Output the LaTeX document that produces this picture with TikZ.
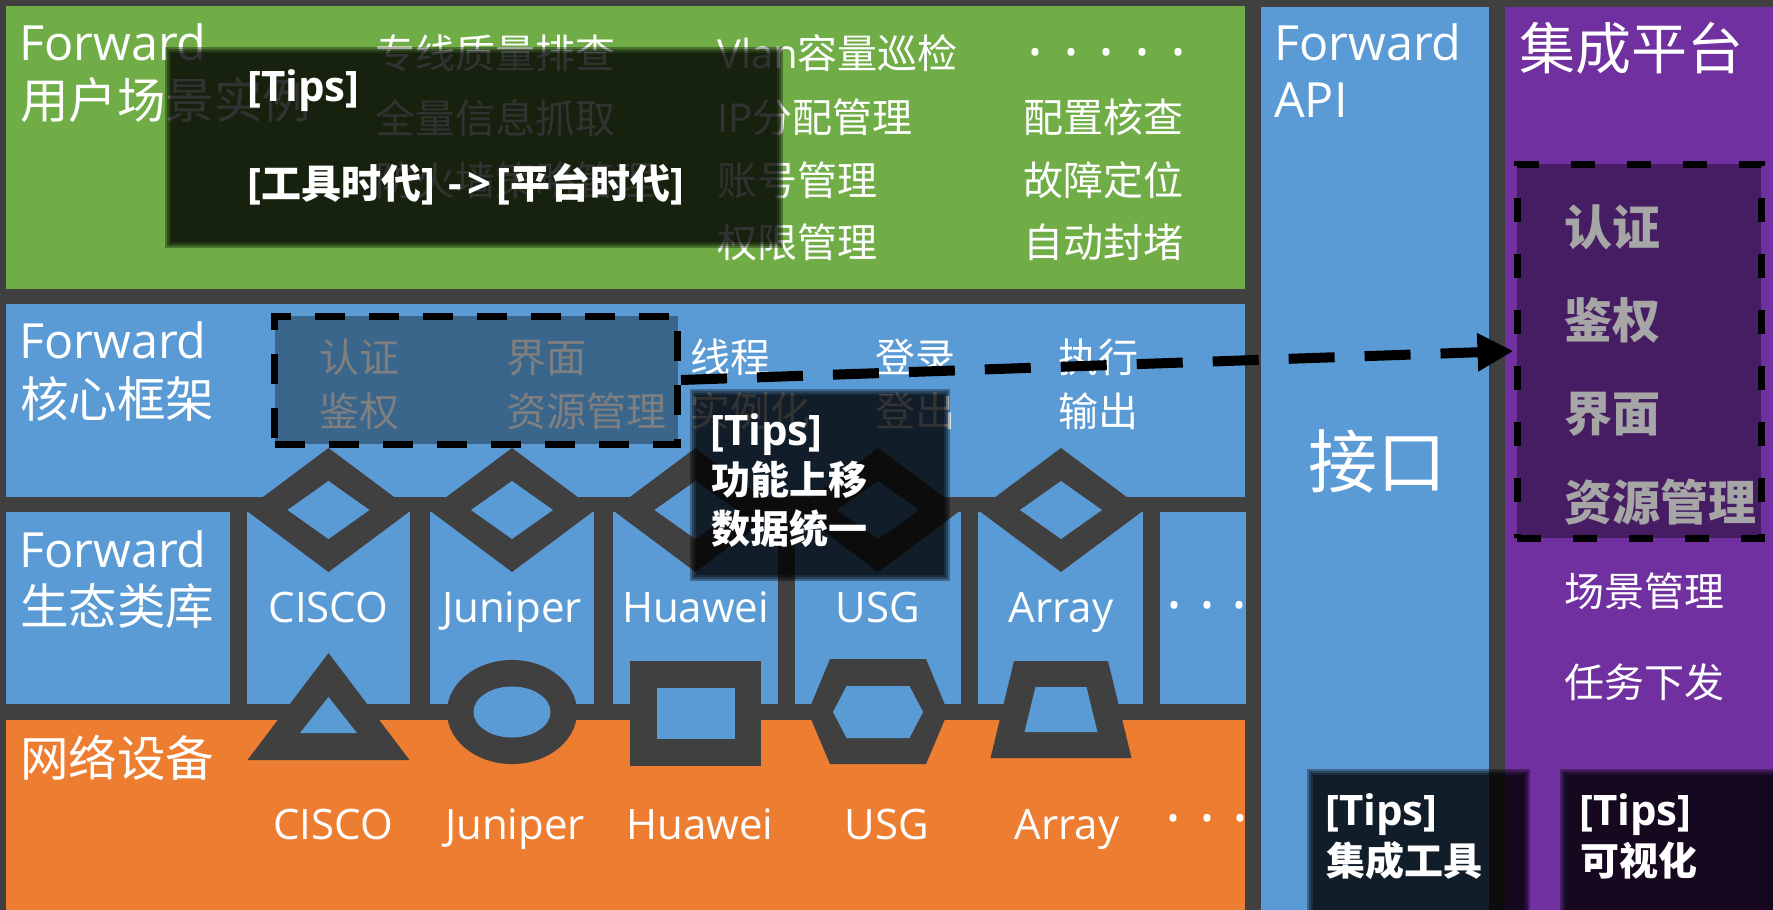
\documentclass[tikz,border=0pt]{standalone}
\usepackage{fontspec}
\setmainfont{Open Sans}
\newfontfamily\cjk{Noto Sans CJK SC}
\usetikzlibrary{arrows.meta}
\definecolor{bgc}{HTML}{404040}
\definecolor{grn}{HTML}{70AD47}
\definecolor{blu}{HTML}{5B9BD5}
\definecolor{org}{HTML}{ED7D31}
\definecolor{pur}{HTML}{7030A0}
\definecolor{corefill}{HTML}{3A668C}
\definecolor{platfill}{HTML}{461D63}
\definecolor{dimtxt}{HTML}{7F7F7F}
\definecolor{gtxt}{HTML}{A6A6A6}
\newcommand\softbox[4]{\foreach \k in {0,1,2,3}{\fill[black,opacity=0.33] ({#1-3+2*\k},{#2-3+2*\k}) rectangle ({#3+3-2*\k},{#4+3-2*\k});}}
\newcommand\tipword{{\fontsize{42}{44}\selectfont [Tips]}}
\tikzset{
 lbl/.style={anchor=base west, inner sep=0pt, text=white, font=\fontsize{48.5}{52}\selectfont},
 itm/.style={anchor=base west, inner sep=0pt, text=white, font=\fontsize{40}{44}\selectfont},
 dev/.style={anchor=base, inner sep=0pt, text=white, font=\fontsize{42}{46}\selectfont},
 tiptxt/.style={anchor=base west, inner sep=0pt, text=white, font=\fontsize{39}{44}\selectfont\bfseries},
 gdots/.style={anchor=base, inner sep=0pt, text=white, font=\fontsize{60}{60}\selectfont},
 dashbox/.style={draw=black, line width=7pt, inner sep=0pt},
 platxt/.style={anchor=base west, inner sep=0pt, text=gtxt, font=\fontsize{48}{52}\selectfont\bfseries\cjk},
}
\begin{document}
\begin{tikzpicture}[x=1pt,y=-1pt]
\useasboundingbox (0,0) rectangle (1773,910);
\fill[bgc] (0,0) rectangle (1773,910);
% panels
\fill[grn] (6,6) rectangle (1245,289);
\fill[blu] (6,304) rectangle (1245,497);
\fill[blu] (6,512) rectangle (230,704);
\foreach \a/\b in {247/410,430/594,613/778,795/961,978/1143,1160/1246}
  \fill[blu] (\a,512) rectangle (\b,704);
\fill[org] (6,720) rectangle (1245,910);
\fill[blu] (1261,7) rectangle (1489,910);
\fill[pur] (1505,7) rectangle (1773,910);
% top connectors (diamonds)
\foreach \c in {328.5,512,695.5,878,1061}{
  \fill[bgc] ({\c-83},510) -- (\c,448) -- ({\c+83},510) -- (\c,572) -- cycle;
  \fill[blu] ({\c-41},510) -- (\c,481) -- ({\c+41},510) -- (\c,539) -- cycle;
}
% bottom connectors
\fill[bgc] (328.5,653) -- (409.5,760) -- (247.5,760) -- cycle;
\fill[blu] (328.5,697) -- (357,733) -- (300,733) -- cycle;
\fill[bgc] (512,712) ellipse [x radius=65, y radius=52];
\fill[blu] (512,712) ellipse [x radius=38.5, y radius=25.5];
\fill[bgc] (630,661) rectangle (761,766);
\fill[blu] (657,688) rectangle (735,739);
\fill[bgc] (830,659) -- (926,659) -- (948,712) -- (926,764) -- (830,764) -- (808,712) -- cycle;
\fill[blu] (846.5,686) -- (909.5,686) -- (923,712) -- (909.5,738) -- (846.5,738) -- (833,712) -- cycle;
\fill[bgc] (1014,661) -- (1108,661) -- (1131.5,758) -- (990.5,758) -- cycle;
\fill[blu] (1035.5,687) -- (1086.5,687) -- (1097.5,732) -- (1024.5,732) -- cycle;

% green panel texts
\node[lbl] (g1) at (19,60) {Forward};
\node[lbl] (g2) at (20,118) {\cjk 用户场景实例};
\node[itm] (a1) at (375,68) {\cjk 专线质量排查};
\node[itm] (a2) at (375,133) {\cjk 全量信息抓取};
\node[itm] (a3) at (375,195) {\cjk 防火墙策略管理};
\node[itm] (b1) at (717,68) {Vlan{\cjk 容量巡检}};
\node[itm] (b2) at (717,132) {IP{\cjk 分配管理}};
\node[itm] (b3) at (717,195) {\cjk 账号管理};
\node[itm] (b4) at (717,257) {\cjk 权限管理};
\node[gdots] (c0) at (1107,73) {·\kern20pt·\kern20pt·\kern20pt·\kern20pt·};
\node[itm] (c1) at (1023,132) {\cjk 配置核查};
\node[itm] (c2) at (1023,195) {\cjk 故障定位};
\node[itm] (c3) at (1023,257) {\cjk 自动封堵};

% core framework
\node[lbl] (k1) at (19,358) {Forward};
\node[lbl] (k2) at (20,417) {\cjk 核心框架};
\node[dashbox, fill=corefill, dash pattern=on 30pt off 24pt, minimum width=403pt, minimum height=128pt] (corebox) at (476,380) {};
\node[itm, text=dimtxt] (k3) at (319,372) {\cjk 认证};
\node[itm, text=dimtxt] (k4) at (319,426) {\cjk 鉴权};
\node[itm, text=dimtxt] (k5) at (506,372) {\cjk 界面};
\node[itm, text=dimtxt] (k6) at (506,426) {\cjk 资源管理};
\node[itm] (k7) at (690,372) {\cjk 线程};
\node[itm] (k8) at (690,426) {\cjk 实例化};
\node[itm] (k9) at (875,372) {\cjk 登录};
\node[itm] (k10) at (875,426) {\cjk 登出};
\node[itm] (k11) at (1058,372) {\cjk 执行};
\node[itm] (k12) at (1058,426) {\cjk 输出};

% eco library
\node[lbl] (e1) at (19,567) {Forward};
\node[lbl] (e2) at (20,624) {\cjk 生态类库};
\node[dev] (e3) at (328.5,622) {CISCO};
\node[dev] (e4) at (512,622) {Juniper};
\node[dev] (e5) at (695.5,622) {Huawei};
\node[dev] (e6) at (878,622) {USG};
\node[dev] (e7) at (1061,622) {Array};
\node[gdots] (e8) at (1207,626) {·\kern16.5pt·\kern16.5pt·};

% network devices
\node[lbl] (o1) at (20,776) {\cjk 网络设备};
\node[dev] (o2) at (333,839) {CISCO};
\node[dev] (o3) at (515,839) {Juniper};
\node[dev] (o4) at (700,839) {Huawei};
\node[dev] (o5) at (887,839) {USG};
\node[dev] (o6) at (1067,839) {Array};
\node[gdots] (o7) at (1207,839) {·\kern18pt·\kern18pt·};

% API column
\node[lbl] (p1) at (1274,60) {Forward};
\node[lbl] (p2) at (1274,117) {API};
\node[anchor=base, inner sep=0pt, text=white, font=\fontsize{69}{72}\selectfont\cjk] (p3) at (1377,487) {接口};

% platform column
\node[anchor=base west, inner sep=0pt, text=white, font=\fontsize{56}{60}\selectfont\cjk] (q1) at (1519,69) {集成平台};
\node[dashbox, fill=platfill, dash pattern=on 24pt off 32pt, minimum width=244pt, minimum height=374pt] (platbox) at (1639,351) {};
\node[platxt] (q2) at (1564,245) {认证};
\node[platxt] (q3) at (1564,338) {鉴权};
\node[platxt] (q4) at (1564,431) {界面};
\node[platxt] (q5) at (1564,520) {资源管理};
\node[itm] (q6) at (1564,606) {\cjk 场景管理};
\node[itm] (q7) at (1564,697) {\cjk 任务下发};

% dashed arrow
\draw[black, line width=10pt, dash pattern=on 46pt off 30pt, -{Triangle[length=36pt,width=36pt]}] (corebox.east) -- (platbox.west);

% tips overlays
\softbox{168}{50}{780}{245}
\node[tiptxt] (t1) at (247,101) {\tipword};
\node[tiptxt] (t2) at (247,198) {{\fontsize{42}{44}\selectfont [}{\fontsize{40}{44}\selectfont\cjk 工具时代}{\fontsize{42}{44}\selectfont ]\kern14pt-\kern5pt>\kern5pt[}{\fontsize{40}{44}\selectfont\cjk 平台时代}{\fontsize{42}{44}\selectfont ]}};
\softbox{693}{392}{947}{578}
\node[tiptxt] (t3) at (710,445) {\tipword};
\node[tiptxt] (t4) at (711,494) {\cjk 功能上移};
\node[tiptxt] (t5) at (711,543) {\cjk 数据统一};
\softbox{1310}{772}{1527}{916}
\node[tiptxt] (t6) at (1325,825) {\tipword};
\node[tiptxt] (t7) at (1326,875) {\cjk 集成工具};
\softbox{1563}{772}{1780}{916}
\node[tiptxt] (t8) at (1579,825) {\tipword};
\node[tiptxt] (t9) at (1580,875) {\cjk 可视化};
\end{tikzpicture}
\end{document}
